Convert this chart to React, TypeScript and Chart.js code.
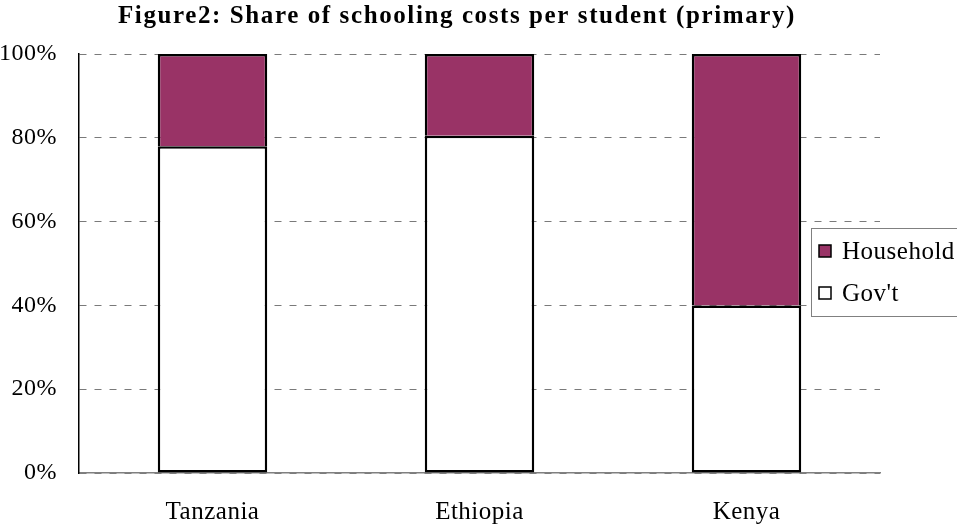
import React, { useEffect, useRef } from "react";
import { Chart, registerables } from "chart.js";

Chart.register(...registerables);

const categories = ["Tanzania", "Ethiopia", "Kenya"];
const govtShare = [78, 80.5, 40];
const householdShare = [22, 19.5, 60];
const yTicks = [0, 20, 40, 60, 80, 100];
const titleText = "Figure2: Share of schooling costs per student (primary)";
const legendItems = [
  { label: "Household", color: "#993366" },
  { label: "Gov't", color: "#ffffff" },
];

const FONT = '"Liberation Serif", "Times New Roman", serif';

export default function App() {
  const ref = useRef<HTMLCanvasElement | null>(null);

  useEffect(() => {
    document.body.style.margin = "0";
    const canvas = ref.current;
    if (!canvas) return;

    const decor = {
      id: "decor",
      beforeDraw(chart: any) {
        (chart.ctx as any).letterSpacing = "0.5px";
      },
      afterDraw(chart: any) {
        const ctx = chart.ctx as CanvasRenderingContext2D;
        ctx.save();
        // title
        (ctx as any).letterSpacing = "1.6px";
        ctx.font = `bold 25px ${FONT}`;
        ctx.fillStyle = "#000";
        ctx.textAlign = "center";
        ctx.textBaseline = "alphabetic";
        ctx.fillText(titleText, 457, 23);
        // legend box
        (ctx as any).letterSpacing = "0.5px";
        ctx.strokeStyle = "#808080";
        ctx.lineWidth = 1;
        ctx.fillStyle = "#fff";
        ctx.fillRect(811.5, 228.5, 200, 88);
        ctx.strokeRect(811.5, 228.5, 200, 88);
        ctx.font = `25px ${FONT}`;
        ctx.textAlign = "left";
        ctx.textBaseline = "middle";
        legendItems.forEach((it, i) => {
          const cy = 251 + i * 42;
          ctx.fillStyle = it.color;
          ctx.fillRect(819, cy - 6, 12, 12);
          ctx.strokeStyle = "#000";
          ctx.lineWidth = 1.5;
          ctx.strokeRect(819, cy - 6, 12, 12);
          ctx.fillStyle = "#000";
          ctx.fillText(it.label, 842, cy + 1);
        });
        ctx.restore();
      },
    };

    const chart = new Chart(canvas, {
      type: "bar",
      data: {
        labels: categories,
        datasets: [
          {
            label: "Gov't",
            data: govtShare,
            backgroundColor: "#ffffff",
            borderColor: "#000000",
            borderWidth: 2.5,
            borderSkipped: false,
            barPercentage: 0.41,
            categoryPercentage: 1,
          },
          {
            label: "Household",
            data: householdShare,
            backgroundColor: "#993366",
            borderColor: "#000000",
            borderWidth: { top: 2.5, left: 2.5, right: 2.5, bottom: 0 },
            borderSkipped: false,
            barPercentage: 0.41,
            categoryPercentage: 1,
          },
        ],
      },
      options: {
        responsive: false,
        animation: false,
        layout: { padding: { top: 54, right: 77, left: 0, bottom: 0 } },
        plugins: {
          legend: { display: false },
          title: { display: false },
          tooltip: { enabled: false },
        },
        scales: {
          x: {
            stacked: true,
            grid: { display: false, drawTicks: false },
            border: { display: true, color: "#808080", width: 1.5 },
            ticks: {
              color: "#000",
              font: { family: FONT, size: 25 },
              padding: 24,
              maxRotation: 0,
            },
            afterFit(scale: any) {
              scale.height = 51;
            },
          },
          y: {
            stacked: true,
            min: 0,
            max: 100,
            afterBuildTicks(scale: any) {
              scale.ticks = yTicks.map((v) => ({ value: v }));
            },
            grid: { color: "#7a7a7a", lineWidth: 1, drawTicks: false },
            border: { display: true, color: "#000", width: 1.5, dash: [7, 8] },
            ticks: {
              color: "#000",
              font: { family: FONT, size: 24 },
              padding: 22,
              callback: (v: any) => `${v}%`,
            },
            afterFit(scale: any) {
              scale.width = 79;
            },
          },
        },
      },
      plugins: [decor],
    });

    return () => chart.destroy();
  }, []);

  return (
    <div style={{ width: 957, height: 524 }}>
      <canvas ref={ref} width={957} height={524} />
    </div>
  );
}
